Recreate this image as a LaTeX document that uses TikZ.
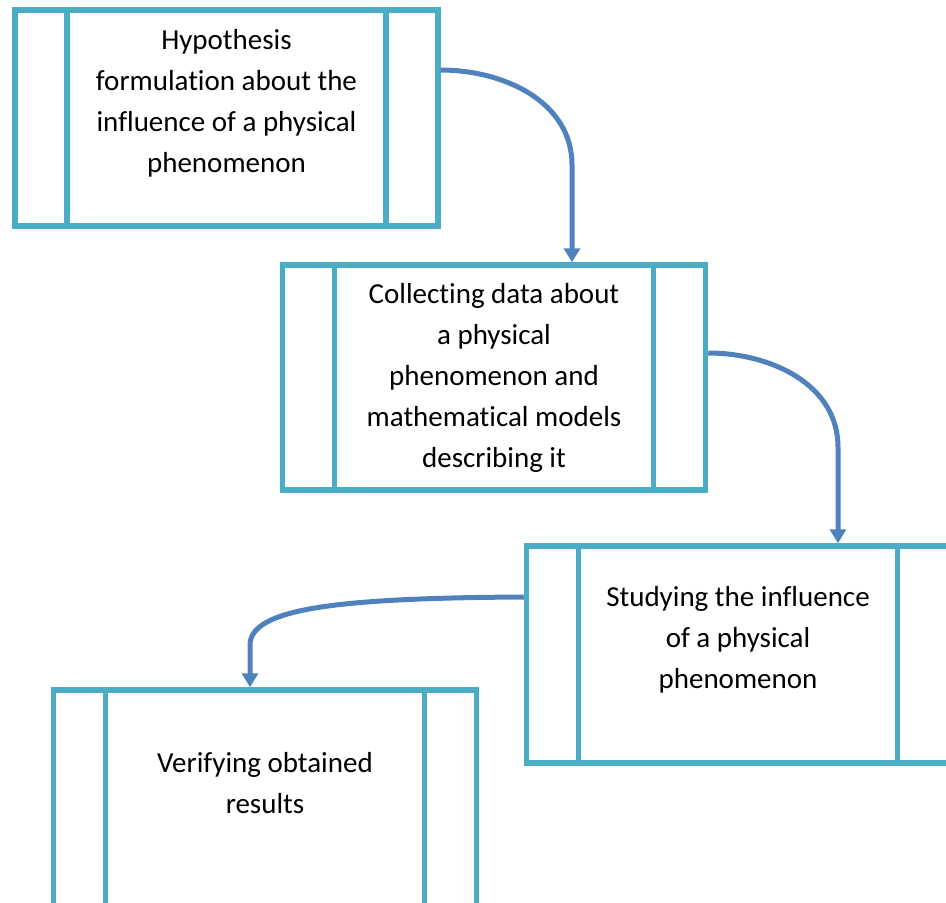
\documentclass[tikz,border=0pt]{standalone}
\usepackage{fontspec}
\setmainfont{Carlito}[RawFeature={-liga;-clig;-dlig}]
\usepackage{tikz}
\usetikzlibrary{arrows.meta, positioning}
\definecolor{boxcyan}{RGB}{75,172,198}
\definecolor{flowblue}{RGB}{79,129,189}

\begin{document}
\begin{tikzpicture}[x=1pt, y=-1pt,
		procbox/.style={draw=boxcyan, line width=5.5pt, fill=white, minimum width=423pt, inner sep=0pt,
			path picture={
				\foreach \side/\dx in {west/52pt, east/-52pt}{
					\draw [boxcyan, line width=5.5pt] ([xshift=\dx]path picture bounding box.north \side)--([xshift=\dx]path picture bounding box.south \side);
				}
			}},
		boxtext/.style={align=center, font=\fontsize{29}{41}\selectfont, inner sep=0pt},
		flow/.style={flowblue, line width=5pt, -{Triangle[width=16pt, length=14pt]}}]
		\useasboundingbox (0,0) rectangle (946,903);
		
		% boxes
		\node [procbox, minimum height=216pt] (hyp) at (226.5,118) {};
		\node [procbox, minimum height=225pt] (coll) at (494,377.5) {};
		\node [procbox, minimum height=217pt] (stud) at (738,654.5) {};
		\node [procbox, minimum height=260pt] (verif) at (265,820) {};
		
		% texts:
		\node [boxtext] (hyptext) at ([yshift=15pt]hyp.center) {Hypothesis\\formulation about the\\influence of a physical\\phenomenon};
		\node [boxtext] (colltext) at (coll.center) {Collecting data about\\a physical\\phenomenon and\\mathematical models\\describing it};
		\node [boxtext] (studtext) at ([yshift=15pt]stud.center) {Studying the influence\\of a physical\\phenomenon};
		\node [boxtext] (veriftext) at ([yshift=36.5pt]verif.center) {Verifying obtained\\results};
		
		% flow arrows
		\coordinate (bend1) at (572,165);
		\coordinate (bend2) at (838,447);
		\coordinate (bend3) at (250,645);
		\draw [flow] ([yshift=48pt]hyp.east) to [out=0, in=90] (bend1) -- (bend1 |- coll.north);
		\draw [flow] ([yshift=24.5pt]coll.east) to [out=0, in=90] (bend2) -- (bend2 |- stud.north);
		\draw [flow] ([yshift=57.5pt]stud.west) .. controls (340,598) and (250,608) .. (bend3) -- (bend3 |- verif.north);
	\end{tikzpicture}
\end{document}
